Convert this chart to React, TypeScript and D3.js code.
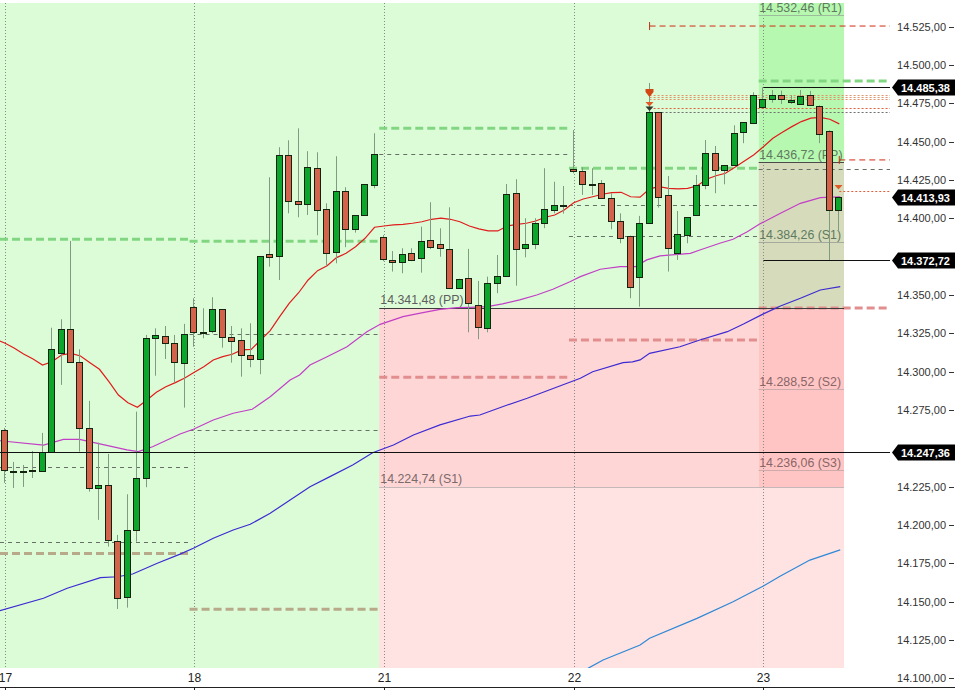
import React from "react";
import * as d3 from "d3";

const W = 955;
const H = 690;
const PLOT_TOP = 3;
const PLOT_BOTTOM = 668;
const LINE_RIGHT = 890;
const AXIS_Y = 687;

const dayLabels = ["17", "18", "21", "22", "23"];
const BARS_PER_DAY = 20;

const opens = [14261.9,14235.2,14234.9,14235.4,14235.0,14247.4,14312.3,14327.8,14306.1,14263.0,
14223.9,14225.9,14189.4,14153.2,14196.5,14230.4,14321.7,14323.0,14318.5,14305.4,
14342.0,14326.1,14326.3,14340.6,14322.4,14320.4,14310.6,14308.0,14376.5,14375.2,
14441.0,14411.0,14409.1,14432.6,14405.8,14377.8,14417.6,14392.8,14401.9,14421.5,
14388.0,14372.6,14371.3,14377.1,14373.9,14385.6,14383.0,14379.8,14354.3,14360.8,
14343.2,14328.2,14357.6,14362.3,14416.3,14380.4,14383.0,14396.7,14405.4,14408.4,
14432.1,14430.6,14422.1,14422.8,14413.0,14398.0,14388.4,14361.5,14396.7,14469.1,
14415.0,14377.1,14388.9,14401.9,14421.5,14442.3,14431.3,14434.5,14456.0,14462.3,
14472.3,14477.8,14480.4,14475.8,14474.5,14480.2,14473.4,14457.1,14405.2];

const highs = [14263.2,14241.1,14239.1,14248.2,14260.0,14328.6,14334.1,14385.2,14314.5,14280.9,
14253.7,14246.3,14193.5,14220.0,14273.9,14323.9,14328.2,14329.7,14323.9,14331.1,
14347.8,14341.3,14348.5,14340.6,14329.7,14328.2,14331.5,14375.4,14426.7,14446.3,
14450.8,14458.6,14443.7,14443.0,14409.7,14440.4,14420.2,14401.9,14422.1,14455.4,
14389.0,14378.6,14380.4,14380.4,14394.5,14410.4,14393.4,14407.1,14360.5,14380.0,
14359.1,14361.9,14376.0,14422.3,14425.4,14400.0,14400.0,14432.6,14423.8,14421.0,
14457.5,14433.2,14432.6,14424.9,14416.3,14403.2,14388.6,14401.5,14488.2,14469.3,
14427.5,14404.7,14400.6,14428.2,14451.0,14447.1,14434.5,14460.6,14462.6,14482.1,
14485.38,14483.6,14483.2,14480.2,14483.6,14483.0,14473.6,14457.3,14413.93];

const lows = [14227.4,14224.1,14224.8,14230.6,14234.6,14246.9,14291.3,14306.1,14247.8,14221.7,
14203.3,14185.9,14145.2,14146.1,14189.1,14224.6,14297.3,14308.2,14293.0,14276.5,
14316.2,14321.7,14325.0,14315.6,14305.8,14296.7,14302.8,14298.3,14368.4,14359.7,
14403.2,14400.6,14402.1,14388.9,14369.1,14370.6,14381.1,14390.6,14401.9,14419.5,
14372.0,14365.2,14364.1,14372.0,14364.5,14379.8,14374.9,14354.0,14354.0,14325.6,
14321.1,14325.6,14351.1,14362.0,14356.0,14374.5,14379.8,14393.5,14403.2,14403.0,
14429.3,14415.2,14415.2,14413.0,14392.8,14383.7,14347.8,14342.3,14396.5,14406.9,
14365.2,14372.8,14383.7,14401.7,14418.9,14416.3,14422.1,14434.3,14448.9,14462.0,
14472.1,14475.3,14474.5,14474.5,14474.3,14473.4,14448.9,14372.72,14392.3];

const closes = [14235.7,14235.0,14234.8,14235.5,14247.4,14314.8,14327.8,14306.1,14263.0,14223.9,
14225.9,14190.0,14152.2,14196.5,14230.4,14322.1,14323.7,14318.5,14306.1,14324.3,
14325.6,14326.0,14340.6,14322.4,14319.8,14310.6,14308.0,14375.2,14374.5,14441.0,
14411.0,14409.1,14433.2,14405.2,14377.1,14417.6,14392.8,14401.9,14422.1,14441.7,
14373.4,14371.3,14376.9,14372.6,14385.0,14381.3,14380.4,14354.3,14360.2,14344.5,
14329.1,14357.6,14362.3,14415.8,14379.8,14383.0,14396.7,14405.8,14408.4,14408.3,
14430.8,14422.1,14422.0,14413.0,14398.0,14386.9,14355.0,14396.7,14469.1,14414.1,
14380.4,14389.5,14400.6,14421.5,14442.3,14431.3,14434.5,14455.4,14462.6,14480.2,
14478.0,14480.6,14477.8,14477.1,14479.7,14473.6,14454.7,14405.2,14413.93];

// moving averages: [bar index, price]
const maRed: [number, number][] = [[-0.5,14319.9],[0,14318.6],[1,14315.4],[2,14311.5],[3,14308.2],[4,14304.3],[5,14306.4],[6,14310.8],[7,14311.9],[8,14310.2],[9,14305.8],[10,14301.5],[11,14293.4],[12,14284.7],[13,14279.7],[14,14276.7],[15,14281.5],[16,14286.5],[17,14290.1],[18,14292.8],[19,14295.8],[20,14299.5],[21,14303.2],[22,14307.6],[23,14309.7],[24,14311.3],[25,14314.1],[26,14314.5],[27,14320.6],[28,14326.7],[29,14335.8],[30,14344.5],[31,14351.4],[32,14359.7],[33,14365.8],[34,14369.0],[35,14374.3],[36,14377.1],[37,14381.4],[38,14386.9],[39,14394.1],[40,14394.9],[41,14395.6],[42,14396.0],[43,14396.7],[44,14397.7],[45,14399.3],[46,14400.0],[47,14399.3],[48,14397.7],[49,14394.9],[50,14393.0],[51,14391.7],[52,14391.7],[53,14394.9],[54,14396.0],[55,14396.7],[56,14398.2],[57,14400.6],[58,14402.1],[59,14405.4],[60,14410.1],[61,14412.5],[62,14414.0],[63,14415.6],[64,14416.7],[65,14416.9],[66,14414.0],[67,14413.7],[68,14419.1],[69,14420.6],[70,14419.5],[71,14419.1],[72,14419.5],[73,14421.0],[74,14425.4],[75,14427.7],[76,14429.3],[77,14433.2],[78,14437.3],[79,14441.4],[80,14446.6],[81,14452.1],[82,14456.0],[83,14459.7],[84,14463.0],[85,14465.2],[86,14465.8],[87,14464.5],[88,14461.5]];

const maMagenta: [number, number][] = [[-0.5,14254.9],[4.1,14252.1],[6.2,14255.8],[7.9,14255.8],[12.9,14248.9],[14.1,14247.8],[15.6,14251.0],[18.5,14259.3],[19.9,14262.4],[22.0,14268.4],[24.1,14272.8],[26.1,14275.4],[28.0,14283.6],[30.1,14294.5],[31.1,14297.8],[32.2,14304.3],[34.0,14309.7],[36.1,14316.2],[38.2,14326.0],[39.6,14330.8],[42.0,14335.8],[44.1,14338.4],[45.9,14340.6],[47.7,14341.7],[49.1,14341.9],[50.9,14342.3],[52.5,14344.1],[54.3,14346.7],[56.1,14349.9],[57.8,14353.7],[59.6,14358.6],[60.7,14361.9],[62.8,14366.7],[64.9,14368.4],[66.5,14368.4],[67.7,14372.8],[69.1,14375.4],[72.3,14377.1],[73.3,14379.3],[75.4,14383.7],[76.8,14386.3],[78.3,14391.2],[79.6,14396.2],[81.8,14403.2],[83.9,14409.7],[86.0,14413.4],[88.1,14414.0]];

const maBlue: [number, number][] = [[-0.5,14144.1],[4.1,14152.2],[6.6,14158.7],[10.1,14165.6],[11.9,14166.2],[13.5,14168.0],[16.1,14175.0],[18.5,14181.0],[19.9,14184.8],[22.0,14191.3],[24.1,14196.7],[25.9,14200.4],[28.0,14207.6],[30.1,14216.3],[32.2,14224.9],[34.3,14231.5],[36.7,14239.1],[38.8,14247.1],[41.0,14252.1],[43.1,14258.6],[45.9,14265.2],[49.1,14271.0],[50.1,14271.7],[53.0,14278.2],[55.1,14282.6],[57.2,14287.5],[59.3,14292.4],[60.7,14295.6],[62.0,14299.9],[65.2,14305.8],[66.2,14306.3],[67.0,14307.6],[68.0,14311.9],[71.2,14316.2],[73.3,14320.6],[76.2,14326.0],[77.9,14331.0],[80.0,14337.6],[81.8,14342.8],[83.9,14347.8],[86.0,14353.2],[88.1,14355.4]];

const maLightBlue: [number, number][] = [[61.5,14106.5],[63.1,14111.9],[67.0,14121.7],[68.0,14126.1],[73.0,14139.1],[76.8,14149.9],[80.0,14160.2],[81.8,14166.7],[84.9,14177.1],[88.1,14183.7]];

// weekly pivots (days 21-23) and daily pivots for day 23
const weekPP = 14341.48;
const weekS1 = 14224.74;
const dayPivotNames = ["R1", "PP", "S1", "S2", "S3"];
const dayPivotValues = [14532.46, 14436.72, 14384.26, 14288.52, 14236.06];

// per-day levels (day index 0..4)
const resistanceLevels = [14386.3, 14385.0, 14458.6, 14432.6, 14489.5];
const middleLevels = [[14237.8, 14188.7], [14324.3, 14261.9], [14441.7], [14408.6, 14388.4], [14432.0]];
const supportLevels = [14181.3, 14145.0, 14296.3, 14320.6, 14341.5];

// order levels from signal bars
const targetLevels = [{ bar: 68, price: 14525.3 }, { bar: 88, price: 14438.0 }];
const orderDotted = [{ bar: 68, price: 14480.4, kind: "o" }, { bar: 68, price: 14479.1, kind: "o" }, { bar: 68, price: 14477.7, kind: "o" }, { bar: 68, price: 14471.9, kind: "r" }, { bar: 68, price: 14469.3, kind: "g" }, { bar: 88, price: 14417.8, kind: "r" }];
const signalMarkers = [{ bar: 68, price: 14482.3, kind: "big" }, { bar: 68, price: 14474.5, kind: "small" }, { bar: 68, price: 14471.5, kind: "dark" }, { bar: 88, price: 14420.4, kind: "small" }];

const priceTags = [14485.38, 14413.93, 14372.72, 14247.36];
const tagLinesFromToday = [14485.38, 14372.72];
const tagLinesFull = [14247.36];

const locale = d3.formatLocale({ decimal: ",", thousands: ".", grouping: [3], currency: ["", ""] });
const fmt = locale.format(",.2f");

export default function App() {
  const xs = d3.scaleLinear().domain([0, 80]).range([4.6, 763.4]);
  const ys = d3.scaleLinear().domain([14100, 14525]).range([678.3, 26.5]);
  const line = d3.line<[number, number]>().x((d) => xs(d[0])).y((d) => ys(d[1]));

  const dayStart = (d: number) => Math.max(0, xs(d * BARS_PER_DAY - 0.5));
  const dayEnd = (d: number) => (d === 4 ? LINE_RIGHT : xs(d * BARS_PER_DAY + BARS_PER_DAY - 0.5));
  const weekX0 = xs(39.5);
  const todayX0 = xs(79.5);
  const todayX1 = xs(88.5);

  const axisTicks = d3.range(14100, 14526, 25).filter((v) => priceTags.every((t) => Math.abs(ys(t) - ys(v)) > 11));

  const font = "'Liberation Sans', Arial, sans-serif";
  const labelSize = 12.4;

  const candle = (i: number) => {
    const o = opens[i], c = closes[i];
    const up = c >= o;
    const cx = Math.round(xs(i));
    const yt = Math.round(ys(Math.max(o, c))) + 0.5;
    const yb = Math.round(ys(Math.min(o, c))) + 0.5;
    return (
      <g key={i}>
        <line x1={cx - 0.5} x2={cx - 0.5} y1={ys(highs[i])} y2={ys(lows[i])} stroke="#7f9c80" strokeWidth={1} />
        <rect x={cx - 3.5} y={yt} width={6} height={Math.max(yb - yt, 1)} fill={up ? "#0ca62c" : "#d3634b"} stroke="#13230f" strokeWidth={1} />
      </g>
    );
  };

  const bars = d3.range(opens.length);

  return (
    <svg width={W} height={H} style={{ position: "absolute", left: 0, top: 0, background: "#fff" }} fontFamily={font}>
      <defs>
        <clipPath id="plotClip">
          <rect x={0} y={PLOT_TOP} width={LINE_RIGHT} height={PLOT_BOTTOM - PLOT_TOP} />
        </clipPath>
      </defs>
      <rect x={0} y={0} width={W} height={H} fill="#fff" />
      {/* backgrounds */}
      <rect x={0} y={PLOT_TOP} width={todayX0} height={PLOT_BOTTOM - PLOT_TOP} fill="#dcfcd8" />
      <rect x={weekX0} y={ys(weekPP)} width={todayX0 - weekX0} height={ys(weekS1) - ys(weekPP)} fill="#ffd6d6" />
      <rect x={weekX0} y={ys(weekS1)} width={todayX0 - weekX0} height={PLOT_BOTTOM - ys(weekS1)} fill="#ffe2e2" />
      <rect x={todayX0} y={PLOT_TOP} width={todayX1 - todayX0} height={ys(dayPivotValues[1]) - PLOT_TOP} fill="#b7f8b1" />
      <rect x={todayX0} y={ys(dayPivotValues[1])} width={todayX1 - todayX0} height={ys(weekPP) - ys(dayPivotValues[1])} fill="#d6dcbb" />
      <rect x={todayX0} y={ys(weekPP)} width={todayX1 - todayX0} height={ys(weekS1) - ys(weekPP)} fill="#ffc5c5" />
      <rect x={todayX0} y={ys(weekS1)} width={todayX1 - todayX0} height={PLOT_BOTTOM - ys(weekS1)} fill="#ffe2e2" />

      {/* day separators */}
      {dayLabels.map((d, k) => (
        <line key={d} x1={Math.round(xs(k * BARS_PER_DAY)) + 0.5} x2={Math.round(xs(k * BARS_PER_DAY)) + 0.5} y1={PLOT_TOP} y2={PLOT_BOTTOM} stroke="#8a8a8a" strokeWidth={1} strokeDasharray="1,2" />
      ))}

      <g clipPath="url(#plotClip)">
        {/* per-day levels */}
        {resistanceLevels.map((v, d) => (
          <line key={"r" + d} x1={dayStart(d)} x2={dayEnd(d)} y1={ys(v)} y2={ys(v)} stroke="#82d682" strokeWidth={3} strokeDasharray="8,4" />
        ))}
        {middleLevels.map((arr, d) =>
          arr.map((v, j) => (
            <line key={"m" + d + "-" + j} x1={dayStart(d)} x2={dayEnd(d)} y1={Math.round(ys(v)) + 0.5} y2={Math.round(ys(v)) + 0.5} stroke="#667066" strokeWidth={1} strokeDasharray="4,4" />
          ))
        )}
        {supportLevels.map((v, d) => (
          <line key={"s" + d} x1={dayStart(d)} x2={dayEnd(d)} y1={ys(v)} y2={ys(v)} stroke={d < 2 ? "#b8a98b" : "#e28e8e"} strokeWidth={3} strokeDasharray="8,4" />
        ))}

        {/* weekly pivots */}
        <line x1={weekX0} x2={todayX1} y1={Math.round(ys(weekPP)) + 0.5} y2={Math.round(ys(weekPP)) + 0.5} stroke="#3c3c3c" strokeWidth={1} />
        <line x1={weekX0} x2={todayX1} y1={Math.round(ys(weekS1)) + 0.5} y2={Math.round(ys(weekS1)) + 0.5} stroke="#c4b8b8" strokeWidth={1} />
        <text x={weekX0 + 1} y={ys(weekPP) - 4} fontSize={labelSize} fill="#5e5e5e">{fmt(weekPP) + " (PP)"}</text>
        <text x={weekX0 + 1} y={ys(weekS1) - 4} fontSize={labelSize} fill="#7a6a6a">{fmt(weekS1) + " (S1)"}</text>

        {/* daily pivots for today */}
        {dayPivotValues.map((v, j) => (
          <g key={"dp" + j}>
            <line x1={todayX0} x2={todayX1} y1={Math.round(ys(v)) + 0.5} y2={Math.round(ys(v)) + 0.5} stroke={j === 1 ? "#4a4a4a" : j === 0 ? "#9cbc9c" : j === 2 ? "#a4aa9c" : "#cfaaaa"} strokeWidth={1} />
            <text x={todayX0 + 0.5} y={Math.max(ys(v) - 3, 12)} fontSize={labelSize} fill={j < 3 ? "#5f7a5f" : "#8a6666"}>{fmt(v) + " (" + dayPivotNames[j] + ")"}</text>
          </g>
        ))}

        {/* order lines */}
        {targetLevels.map((t, j) => (
          <g key={"t" + j}>
            <line x1={xs(t.bar)} x2={LINE_RIGHT} y1={ys(t.price)} y2={ys(t.price)} stroke="#d22a12" strokeWidth={1} strokeDasharray="6,4" />
            <line x1={xs(t.bar)} x2={xs(t.bar)} y1={ys(t.price) - 4} y2={ys(t.price) + 4} stroke="#c03010" strokeWidth={1} />
          </g>
        ))}
        {orderDotted.map((t, j) => (
          <line key={"od" + j} x1={xs(t.bar)} x2={LINE_RIGHT} y1={Math.round(ys(t.price)) + 0.5} y2={Math.round(ys(t.price)) + 0.5} stroke={t.kind === "o" ? "#e0946a" : t.kind === "r" ? "#e0603c" : "#707070"} strokeWidth={1} strokeDasharray="2,2" />
        ))}

        {/* moving averages */}
        <path d={line(maBlue) || ""} fill="none" stroke="#3c2ad2" strokeWidth={1.2} />
        <path d={line(maLightBlue) || ""} fill="none" stroke="#2e88d6" strokeWidth={1.2} />
        <path d={line(maMagenta) || ""} fill="none" stroke="#c23ec6" strokeWidth={1.2} />
        <path d={line(maRed) || ""} fill="none" stroke="#e01c1c" strokeWidth={1.2} />

        {/* candles */}
        {bars.map((i) => candle(i))}

        {/* signal markers */}
        {signalMarkers.map((m, j) => {
          const cx = Math.round(xs(m.bar)) - 0.5;
          const y = ys(m.price);
          if (m.kind === "big") {
            return (
              <g key={"sm" + j}>
                <rect x={cx - 4} y={y - 3} width={8} height={3} fill="#d24814" />
                <path d={`M${cx - 4},${y} L${cx + 4},${y} L${cx},${y + 5} Z`} fill="#d24814" />
              </g>
            );
          }
          return <path key={"sm" + j} d={`M${cx - 4},${y - 2} L${cx + 4},${y - 2} L${cx},${y + 2.5} Z`} fill={m.kind === "dark" ? "#2e3a2e" : "#e05a28"} />;
        })}

        {/* price tag lines */}
        {tagLinesFromToday.map((v) => (
          <line key={"tl" + v} x1={xs(80)} x2={LINE_RIGHT} y1={Math.round(ys(v)) + 0.5} y2={Math.round(ys(v)) + 0.5} stroke="#111" strokeWidth={1} />
        ))}
        {tagLinesFull.map((v) => (
          <line key={"tf" + v} x1={0} x2={LINE_RIGHT} y1={Math.round(ys(v)) + 0.5} y2={Math.round(ys(v)) + 0.5} stroke="#111" strokeWidth={1} />
        ))}
      </g>

      {/* right axis */}
      {axisTicks.map((v) => (
        <g key={"ax" + v}>
          <text x={946} y={ys(v)} fontSize={11} fill="#333" textAnchor="end" dominantBaseline="central">{fmt(v)}</text>
          <line x1={949} x2={954} y1={Math.round(ys(v)) + 0.5} y2={Math.round(ys(v)) + 0.5} stroke="#333" strokeWidth={1} />
        </g>
      ))}
      {priceTags.map((v) => {
        const y = Math.round(ys(v)) + 0.5;
        return (
          <g key={"tag" + v}>
            <path d={`M892,${y} L898,${y - 8} L955,${y - 8} L955,${y + 8} L898,${y + 8} Z`} fill="#000" />
            <text x={901} y={y} fontSize={11} fontWeight="bold" fill="#fff" dominantBaseline="central">{fmt(v)}</text>
          </g>
        );
      })}

      {/* bottom axis */}
      <line x1={0} x2={W} y1={AXIS_Y + 0.5} y2={AXIS_Y + 0.5} stroke="#222" strokeWidth={1} />
      {dayLabels.map((d, k) => {
        const x = Math.round(xs(k * BARS_PER_DAY)) + 0.5;
        return (
          <g key={"xl" + d}>
            <line x1={x} x2={x} y1={AXIS_Y} y2={AXIS_Y + 4} stroke="#222" strokeWidth={1} />
            <text x={x} y={678} fontSize={12} fill="#222" textAnchor="middle" dominantBaseline="central">{d}</text>
          </g>
        );
      })}
    </svg>
  );
}
